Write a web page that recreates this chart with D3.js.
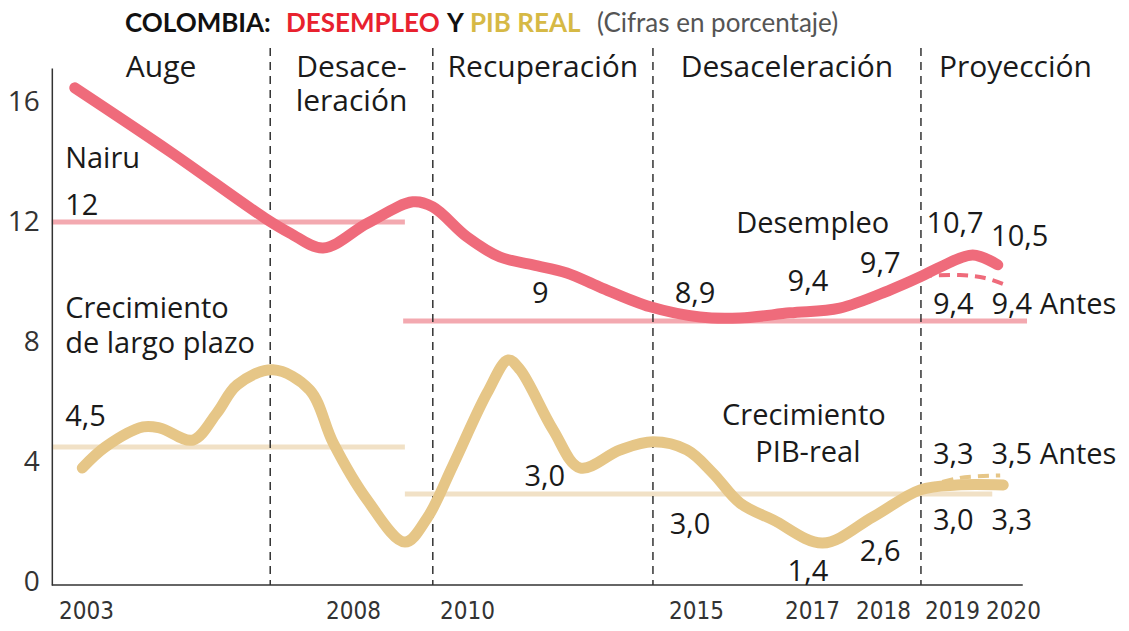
<!DOCTYPE html>
<html>
<head>
<meta charset="utf-8">
<script src="https://cdn.jsdelivr.net/npm/d3@7"></script>
<style>
  body { margin: 0; background: #fff; }
  svg { display: block; font-family: "Open Sans", sans-serif; }
</style>
</head>
<body>
<div id="chart"></div>
<script>
// Años marcados en el eje
const years = [2003, 2008, 2010, 2015, 2017, 2018, 2019, 2020];
const yTicks = [0, 4, 8, 12, 16];

// Periodos (límites en años)
const periodNames = [["Auge"], ["Desace-", "leración"], ["Recuperación"], ["Desaceleración"], ["Proyección"]];
const periodBreaks = [2002.36, 2006.45, 2009.4, 2014.06, 2018.55, 2021.59];

// Desempleo (%)
const desempleo = [
  [2002.79, 16.47], [2004.57, 14.35], [2006.35, 12.13], [2006.82, 11.63],
  [2007.44, 11.13], [2008.25, 11.95], [2009.05, 12.67], [2009.4, 12.5],
  [2010.0, 11.5], [2010.72, 10.83], [2011.44, 10.57], [2012.18, 10.3],
  [2012.9, 9.83], [2014.0, 9.17], [2015.07, 8.83], [2015.76, 8.8],
  [2016.62, 8.97], [2017.39, 9.13], [2018.1, 9.73], [2018.54, 10.17],
  [2018.83, 10.5], [2019.34, 10.9], [2019.75, 10.57]
];
const desempleoAntes = [[2018.55, 10.2], [2019.13, 10.23], [2019.54, 10.13], [2019.84, 9.93]];

// Crecimiento PIB real (%)
const pib = [
  [2002.93, 3.8], [2003.36, 4.5], [2004.07, 5.17], [2004.39, 5.13],
  [2005.0, 4.73], [2005.45, 5.63], [2005.83, 6.57], [2006.5, 7.07],
  [2007.19, 6.4], [2007.63, 4.63], [2008.25, 2.73], [2008.91, 1.33],
  [2009.3, 2.13], [2009.75, 3.87], [2010.44, 6.3], [2010.9, 7.4],
  [2011.16, 7.07], [2011.88, 5.07], [2012.47, 3.8], [2013.34, 4.4],
  [2014.06, 4.67], [2014.8, 4.4], [2015.29, 3.63], [2015.76, 2.63],
  [2016.33, 2.07], [2017.15, 1.3], [2017.86, 2.17], [2018.54, 3.07],
  [2019.08, 3.23], [2019.84, 3.23]
];
const pibAntes = [[2018.61, 3.17], [2019.13, 3.47], [2019.79, 3.55]];

// Referencias: Nairu y crecimiento de largo plazo
const nairu = [
  { from: 2002.36, to: 2008.91, value: 12 },
  { from: 2008.88, to: 2020.23, value: 8.7 }
];
const largoPlazo = [
  { from: 2002.36, to: 2008.91, value: 4.5 },
  { from: 2008.91, to: 2019.66, value: 2.93 }
];

// Etiquetas (año, valor)
const labels = [
  { t: "Nairu", x: 2002.61, v: 14.17, a: "start" },
  { t: "12", x: 2002.61, v: 12.63, a: "start" },
  { t: "Crecimiento", x: 2002.61, v: 9.17, a: "start" },
  { t: "de largo plazo", x: 2002.61, v: 8.0, a: "start" },
  { t: "4,5", x: 2002.61, v: 5.57, a: "start" },
  { t: "9", x: 2011.6, v: 9.67, a: "middle" },
  { t: "8,9", x: 2014.98, v: 9.67, a: "middle" },
  { t: "9,4", x: 2016.93, v: 10.07, a: "middle" },
  { t: "9,7", x: 2017.96, v: 10.67, a: "middle" },
  { t: "Desempleo", x: 2017.01, v: 12.0, a: "middle" },
  { t: "10,7", x: 2019.05, v: 12.0, a: "middle" },
  { t: "10,5", x: 2020.11, v: 11.57, a: "middle" },
  { t: "9,4", x: 2019.02, v: 9.33, a: "middle" },
  { t: "9,4", x: 2019.98, v: 9.33, a: "middle" },
  { t: "Antes", x: 2020.44, v: 9.33, a: "start" },
  { t: "Crecimiento", x: 2016.86, v: 5.63, a: "middle" },
  { t: "PIB-real", x: 2016.93, v: 4.37, a: "middle" },
  { t: "3,0", x: 2011.7, v: 3.57, a: "middle" },
  { t: "3,0", x: 2014.87, v: 1.97, a: "middle" },
  { t: "1,4", x: 2016.93, v: 0.4, a: "middle" },
  { t: "2,6", x: 2017.96, v: 1.07, a: "middle" },
  { t: "3,3", x: 2019.02, v: 4.3, a: "middle" },
  { t: "3,5", x: 2019.98, v: 4.3, a: "middle" },
  { t: "Antes", x: 2020.44, v: 4.3, a: "start" },
  { t: "3,0", x: 2019.02, v: 2.13, a: "middle" },
  { t: "3,3", x: 2019.98, v: 2.13, a: "middle" }
];

const width = 1129;
const height = 631;

const svg = d3
  .select("#chart")
  .append("svg")
  .attr("width", width)
  .attr("height", height);

// Escalas (el eje de años no es uniforme en el original)
const x = d3.scaleLinear().domain(years).range([86, 353, 467, 696, 812, 883, 952, 1013]);
const y = d3.scaleLinear().domain([-0.1, 17.13]).range([585, 68]);

const line = d3
  .line()
  .x((d) => x(d[0]))
  .y((d) => y(d[1]))
  .curve(d3.curveCatmullRom.alpha(0.5));

// Título
const title = svg
  .append("text")
  .attr("y", 32)
  .style("font-family", "Lato, sans-serif")
  .style("font-size", "26px")
  .style("font-weight", "bold");
title.append("tspan").attr("x", 125).attr("fill", "#111").text("COLOMBIA:");
title.append("tspan").attr("x", 286).attr("fill", "#e8212e").text("DESEMPLEO");
title.append("tspan").attr("x", 447).attr("fill", "#111").text("Y");
title.append("tspan").attr("x", 470).attr("fill", "#d6b945").text("PIB REAL");
title
  .append("tspan")
  .attr("x", 597)
  .attr("fill", "#555")
  .style("font-weight", "normal")
  .style("font-size", "26px")
  .text("(Cifras en porcentaje)");

// Líneas de referencia
svg
  .selectAll("line.nairu")
  .data(nairu)
  .enter()
  .append("line")
  .attr("x1", (d) => x(d.from))
  .attr("x2", (d) => x(d.to))
  .attr("y1", (d) => y(d.value))
  .attr("y2", (d) => y(d.value))
  .attr("stroke", "#f3a9b0")
  .attr("stroke-width", 5);

svg
  .selectAll("line.largo")
  .data(largoPlazo)
  .enter()
  .append("line")
  .attr("x1", (d) => x(d.from))
  .attr("x2", (d) => x(d.to))
  .attr("y1", (d) => y(d.value))
  .attr("y2", (d) => y(d.value))
  .attr("stroke", "#f1e1c6")
  .attr("stroke-width", 5);

// Separadores de periodos
svg
  .selectAll("line.sep")
  .data(periodBreaks.slice(1, -1))
  .enter()
  .append("line")
  .attr("x1", (d) => x(d))
  .attr("x2", (d) => x(d))
  .attr("y1", y(17.8))
  .attr("y2", y(-0.1))
  .attr("stroke", "#333")
  .attr("stroke-width", 1.5)
  .attr("stroke-dasharray", "8,6");

// Ejes
const yAxis = svg
  .append("g")
  .attr("transform", `translate(${x(periodBreaks[0])},0)`)
  .call(d3.axisLeft(y).tickValues(yTicks).tickSize(0).tickPadding(12));
yAxis.select(".domain").attr("stroke", "#333").attr("stroke-width", 1.5);
yAxis
  .selectAll("text")
  .style("font-family", '"Open Sans", sans-serif')
  .style("font-size", "28px")
  .attr("fill", "#333");

const xAxis = svg
  .append("g")
  .attr("transform", `translate(0,${y(-0.1)})`)
  .call(d3.axisBottom(x).tickValues(years).tickFormat(d3.format("d")).tickSize(0).tickPadding(17));
xAxis.select(".domain").remove();
xAxis
  .selectAll("text")
  .style("font-family", '"DejaVu Sans Condensed", sans-serif')
  .style("font-stretch", "condensed")
  .style("font-size", "24px")
  .attr("fill", "#333");

svg
  .append("line")
  .attr("x1", x(periodBreaks[0]))
  .attr("x2", x(2020.16))
  .attr("y1", y(-0.1))
  .attr("y2", y(-0.1))
  .attr("stroke", "#333")
  .attr("stroke-width", 1.5);

// Curvas
svg
  .append("path")
  .datum(pibAntes)
  .attr("d", line)
  .attr("fill", "none")
  .attr("stroke", "#e6c687")
  .attr("stroke-width", 4)
  .attr("stroke-dasharray", "11,7");

svg
  .append("path")
  .datum(pib)
  .attr("d", line)
  .attr("fill", "none")
  .attr("stroke", "#e6c687")
  .attr("stroke-width", 11)
  .attr("stroke-linecap", "round")
  .attr("stroke-linejoin", "round");

svg
  .append("path")
  .datum(desempleoAntes)
  .attr("d", line)
  .attr("fill", "none")
  .attr("stroke", "#ef6b7b")
  .attr("stroke-width", 4)
  .attr("stroke-dasharray", "11,7");

svg
  .append("path")
  .datum(desempleo)
  .attr("d", line)
  .attr("fill", "none")
  .attr("stroke", "#ef6b7b")
  .attr("stroke-width", 11)
  .attr("stroke-linecap", "round")
  .attr("stroke-linejoin", "round");

// Nombres de los periodos
periodNames.forEach((lines, i) => {
  const cx = (x(periodBreaks[i]) + x(periodBreaks[i + 1])) / 2;
  lines.forEach((t, j) => {
    svg
      .append("text")
      .attr("x", cx)
      .attr("y", y(17.2) + j * 34)
      .attr("text-anchor", "middle")
      .attr("dominant-baseline", "central")
      .style("font-size", "30px")
      .attr("fill", "#1a1a1a")
      .text(t);
  });
});

// Etiquetas
svg
  .selectAll("text.lbl")
  .data(labels)
  .enter()
  .append("text")
  .attr("class", "lbl")
  .attr("x", (d) => x(d.x))
  .attr("y", (d) => y(d.v))
  .attr("text-anchor", (d) => d.a)
  .attr("dominant-baseline", "central")
  .style("font-size", "29px")
  .attr("fill", "#1a1a1a")
  .text((d) => d.t);
</script>
</body>
</html>
